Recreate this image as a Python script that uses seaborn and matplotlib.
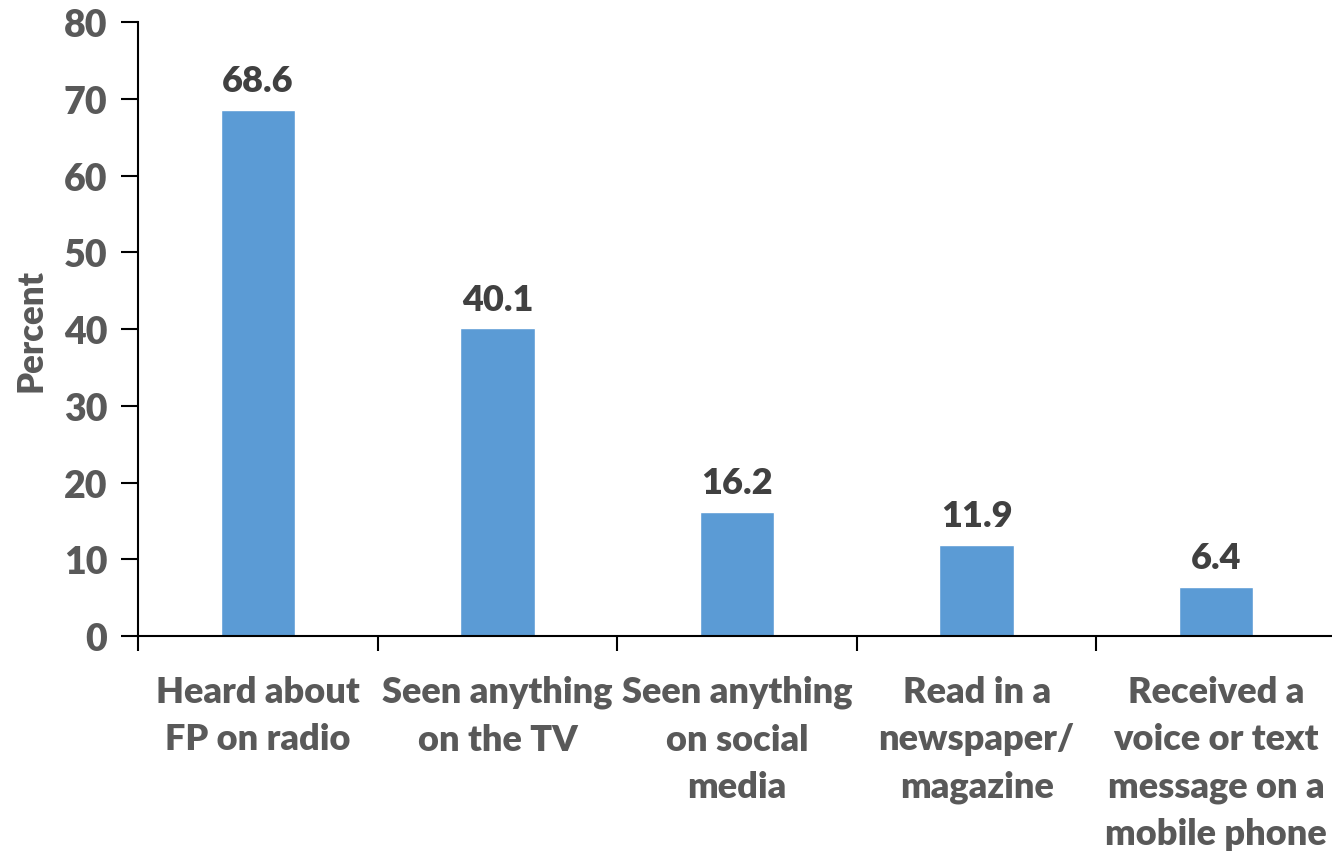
import matplotlib
matplotlib.use("Agg")
import matplotlib.pyplot as plt
import seaborn as sns
import pandas as pd

categories = [
    "Heard about\nFP on radio",
    "Seen anything\non the TV",
    "Seen anything\non social\nmedia",
    "Read in a\nnewspaper/\nmagazine",
    "Received a\nvoice or text\nmessage on a\nmobile phone",
]
percent = [68.6, 40.1, 16.2, 11.9, 6.4]
y_ticks = [0, 10, 20, 30, 40, 50, 60, 70, 80]

sns.set_style("white")
plt.rcParams["font.family"] = ["Lato", "DejaVu Sans"]
W = "heavy"

df = pd.DataFrame({"category": categories, "percent": percent})

fig = plt.figure(figsize=(13.32, 8.54), dpi=100)
ax = fig.add_axes([0.1036, 0.254, 0.8994, 0.719])

sns.barplot(data=df, x="category", y="percent", color="#5B9BD5",
            saturation=1, width=0.31, ax=ax)

for i, v in enumerate(percent):
    ax.annotate(f"{v:.1f}", (i, v), xytext=(0, 9), textcoords="offset points",
                ha="center", va="bottom", fontsize=26, fontweight=W,
                color="#404040")

ax.set_ylim(0, 80)
ax.set_xlim(-0.5, len(categories) - 0.5)
ax.set_yticks(y_ticks)
ax.set_yticklabels([str(t) for t in y_ticks], fontsize=27, fontweight=W,
                   color="#595959")

# category labels centred, ticks on boundaries
ax.set_xticks(range(len(categories)))
ax.set_xticklabels(categories, fontsize=26, fontweight=W, color="#595959",
                   linespacing=1.52, va="top")
ax.tick_params(axis="x", which="major", length=0, pad=28)
ax.set_xticks([i - 0.5 for i in range(len(categories) + 1)], minor=True)
ax.tick_params(axis="x", which="minor", bottom=True, length=11, width=1.5,
               color="black", direction="out")
ax.tick_params(axis="y", left=True, length=12, width=1.5, color="black",
               direction="out", pad=10)

ax.set_xlabel("")
ax.set_ylabel("Percent", fontsize=25, fontweight=W, color="#595959",
              labelpad=12)

sns.despine(ax=ax)
for s in ["left", "bottom"]:
    ax.spines[s].set_color("black")
    ax.spines[s].set_linewidth(1.5)

fig.savefig("out.png", dpi=100)
